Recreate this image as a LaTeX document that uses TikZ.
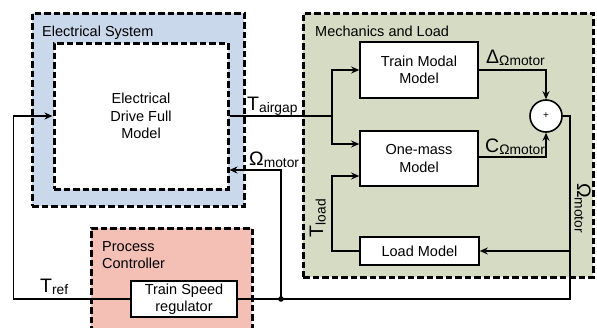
\documentclass[tikz,border=0pt]{standalone}
\usepackage{fontspec}
\setmainfont{Liberation Sans}
\usetikzlibrary{arrows.meta,positioning}

\definecolor{elecblue}{RGB}{202,216,235}
\definecolor{mechgreen}{RGB}{214,220,196}
\definecolor{ctrlred}{RGB}{244,191,181}

% big symbol with a lowered index
\newcommand{\sigl}[2]{{\fontsize{19.5}{19}\selectfont #1}\raisebox{-2.5pt}{\fontsize{13.8}{14}\selectfont #2}}

\begin{document}
\begin{tikzpicture}[x=1pt, y=-1pt, font=\fontsize{14.5}{17.5}\selectfont, >={Stealth[length=8pt,width=7pt]}]
    \tikzstyle{group} = [draw, line width=3pt, dash pattern=on 6.5pt off 3pt, inner sep=0pt, align=center]
    \tikzstyle{block} = [draw, fill=white, line width=1.6pt, inner sep=0pt, align=center]
    \tikzstyle{title} = [inner sep=0pt, align=left]
    \tikzstyle{sig} = [anchor=base west, inner sep=0pt]
    \tikzstyle{wire} = [line width=1.4pt]

    \clip (0,0) rectangle (597,327);

    % Group frames
    \node[group, fill=elecblue, minimum width=212pt, minimum height=193pt] (elec) at (138,109.5) {};
    \node[group, fill=mechgreen, minimum width=290pt, minimum height=264pt] (mech) at (448,145) {};
    \node[group, fill=ctrlred, minimum width=161pt, minimum height=112pt] (ctrl) at (171.5,284) {};
    \node[title, anchor=base west] at (42,36) {Electrical System};
    \node[title, anchor=base west] at (315,36) {Mechanics and Load};
    \node[title, anchor=north west] at (102,241) {Process\\Controller};

    % Drive model (inner dashed box)
    \node[group, fill=white, minimum width=174pt, minimum height=146pt] (drive) at (141,116) {Electrical\\Drive Full\\Model};

    % Mechanics blocks
    \node[block, minimum width=118pt, minimum height=56pt] (modal) at (419,70) {Train Modal\\Model};
    \node[block, minimum width=118pt, minimum height=55pt] (onemass) at (419,158.5) {One-mass\\Model};
    \node[block, minimum width=119pt, minimum height=28pt] (load) at (419.5,251) {Load Model};
    \node[block, circle, minimum size=32pt] (sum) at (546,116) {\fontsize{10}{10}\selectfont +};

    % Controller block
    \node[block, minimum width=106pt, minimum height=36pt] (reg) at (184,299) {Train Speed\\regulator};

    % Branch points
    \coordinate (split) at (332,116);
    \coordinate (tap) at (281,299);
    \coordinate (turn) at (570,299);

    % Torque into the mechanics
    \draw[wire] (drive.east) -- (split);
    \draw[wire, ->] (split) |- (modal.west);
    \draw[wire, ->] (split) |- (onemass.west |- 0,144);
    \draw[wire, ->] (modal.east) -| (sum.north);
    \draw[wire, ->] (onemass.east |- 0,157) -| (sum.south);

    % Speed feedback
    \draw[wire] (sum.east) -| (turn) -- (reg.east);
    \draw[wire, ->] (turn |- load.east) -- (load.east);
    \draw[wire, ->] (load.west) -| (split |- 0,176) -- (onemass.west |- 0,176);
    \draw[wire, ->] (tap) |- (drive.east |- 0,170);
    \draw[wire, ->] (reg.west) -| ([xshift=-39pt]drive.west) -- (drive.west);
    \fill (tap) circle (2.8pt);

    % Signal labels
    \node[sig] (tair) at (247,110) {\sigl{T}{airgap}};
    \node[sig] (wfb) at (249,165) {\sigl{Ω}{motor}};
    \node[sig] (dlt) at (486,63) {\sigl{Δ}{Ωmotor}};
    \node[sig] (cw) at (485,152) {\sigl{C}{Ωmotor}};
    \node[sig] (tref) at (40,292) {\sigl{T}{ref}};
    \node[sig, rotate=90] (tload) at (323,237.5) {\sigl{T}{load}};
    \node[sig, rotate=-90] (wout) at (577,183) {\sigl{Ω}{motor}};
\end{tikzpicture}
\end{document}
